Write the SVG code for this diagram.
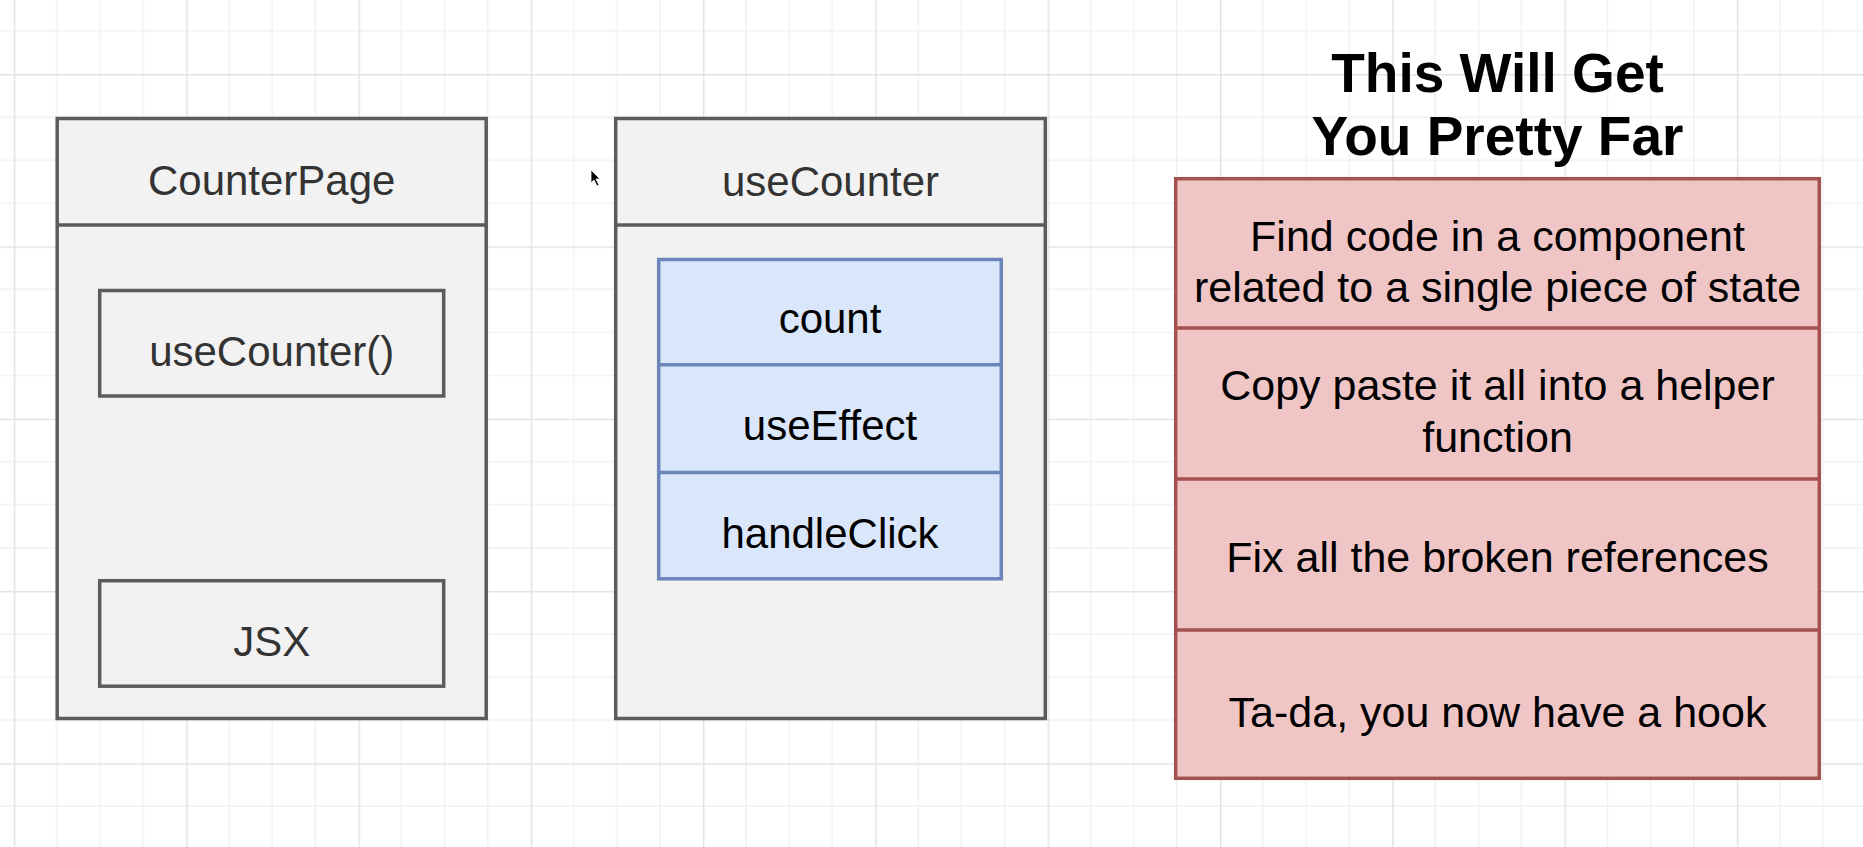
<svg xmlns="http://www.w3.org/2000/svg" width="1863" height="847" viewBox="0 0 1863 847">
  <defs>
    <pattern id="grid" patternUnits="userSpaceOnUse" x="13.8" y="74" width="172.3" height="172.3">
      <path d="M43.08 0V172.3M86.15 0V172.3M129.23 0V172.3M0 43.08H172.3M0 86.15H172.3M0 129.23H172.3" stroke="#f1f1f1" stroke-width="1.5" fill="none"/>
      <path d="M0.75 0V172.3M0 0.75H172.3" stroke="#e3e3e3" stroke-width="1.5" fill="none"/>
    </pattern>
    <style>
      .gray { fill: #f2f2f2; stroke: #5c5c5c; stroke-width: 3.5; }
      .gline { stroke: #5c5c5c; stroke-width: 3.5; }
      .blue { fill: #dae6fa; stroke: #6d86b9; stroke-width: 3.5; }
      .bline { stroke: #6d86b9; stroke-width: 3.5; }
      .red { fill: #efc6c5; stroke: #a4524f; stroke-width: 3.5; }
      .rline { stroke: #a4524f; stroke-width: 3.5; }
      text { font-family: "Liberation Sans", Arial, Helvetica, sans-serif; font-size: 42px; text-anchor: middle; }
      .tg { fill: #333333; }
      .tb { fill: #000000; }
      .tr { fill: #000000; font-size: 43px; }
      .title { font-weight: bold; font-size: 55px; fill: #000000; }
    </style>
  </defs>
  <rect width="1863" height="847" fill="#ffffff"/>
  <rect width="1863" height="847" fill="url(#grid)"/>

  <g id="counterpage">
    <rect class="gray" x="57.2" y="118.5" width="429" height="600"/>
    <line class="gline" x1="57.2" y1="225" x2="486.2" y2="225"/>
    <text class="tg" x="271.7" y="195">CounterPage</text>
  </g>
  <g id="usecounter-call">
    <rect class="gray" x="99.7" y="290.5" width="344" height="105.5"/>
    <text class="tg" x="271.7" y="366">useCounter()</text>
  </g>
  <g id="jsx">
    <rect class="gray" x="99.7" y="580.7" width="344" height="105.5"/>
    <text class="tg" x="271.7" y="656">JSX</text>
  </g>

  <g id="usecounter">
    <rect class="gray" x="615.7" y="118.5" width="429.6" height="600"/>
    <line class="gline" x1="615.7" y1="225" x2="1045.3" y2="225"/>
    <text class="tg" x="830.5" y="196">useCounter</text>
  </g>
  <g id="hook-parts">
    <rect class="blue" x="658.7" y="259.5" width="342.6" height="319.3"/>
    <line class="bline" x1="658.7" y1="364.7" x2="1001.3" y2="364.7"/>
    <line class="bline" x1="658.7" y1="472.6" x2="1001.3" y2="472.6"/>
  </g>
  <g id="count"><text class="tb" x="830" y="333">count</text></g>
  <g id="useeffect"><text class="tb" x="830" y="440">useEffect</text></g>
  <g id="handleclick"><text class="tb" x="830" y="548">handleClick</text></g>

  <g id="title">
    <text class="title" x="1497.5" y="92">This Will Get</text>
    <text class="title" x="1497.5" y="155">You Pretty Far</text>
  </g>

  <g id="steps">
    <rect class="red" x="1175.7" y="178.7" width="643.6" height="599.6"/>
    <line class="rline" x1="1175.7" y1="328" x2="1819.3" y2="328"/>
    <line class="rline" x1="1175.7" y1="479" x2="1819.3" y2="479"/>
    <line class="rline" x1="1175.7" y1="630" x2="1819.3" y2="630"/>
  </g>
  <g id="step1">
    <text class="tr" x="1497.5" y="251">Find code in a component</text>
    <text class="tr" x="1497.5" y="302">related to a single piece of state</text>
  </g>
  <g id="step2">
    <text class="tr" x="1497.5" y="400">Copy paste it all into a helper</text>
    <text class="tr" x="1497.5" y="452">function</text>
  </g>
  <g id="step3"><text class="tr" x="1497.5" y="572">Fix all the broken references</text></g>
  <g id="step4"><text class="tr" x="1497.5" y="727">Ta-da, you now have a hook</text></g>

  <g id="connectors"></g>

  <g id="cursor">
    <polygon points="591,170 591,183 594,180 597,186 599,185 596,179 600,179" fill="#000000" stroke="#ffffff" stroke-width="0.8"/>
  </g>
</svg>
